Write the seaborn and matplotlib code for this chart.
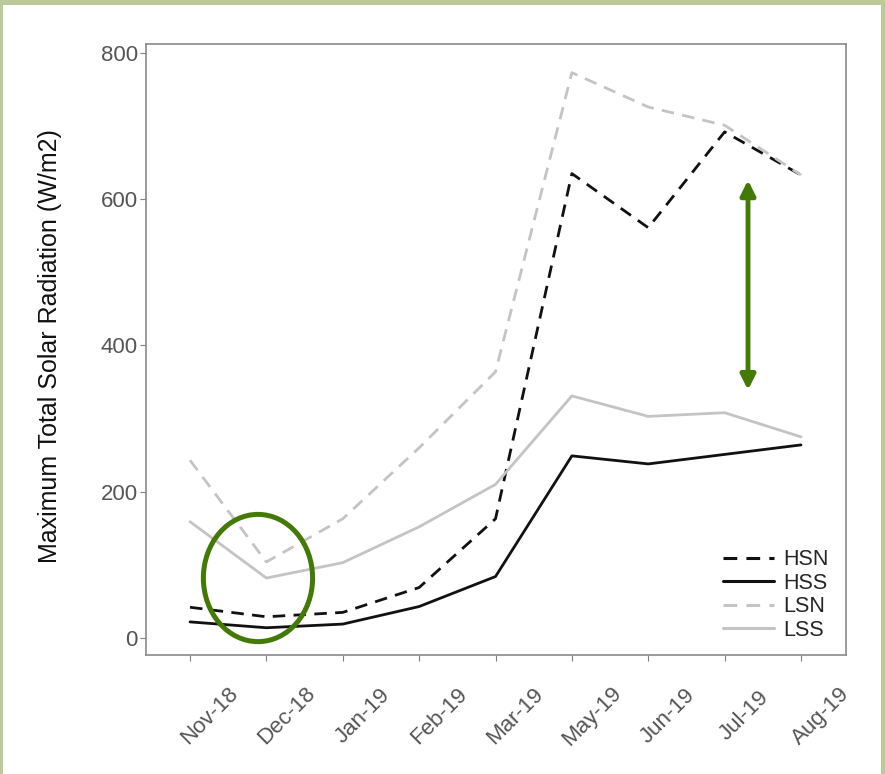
import matplotlib
matplotlib.use("Agg")
import matplotlib.pyplot as plt
from matplotlib.patches import Ellipse, Rectangle
from matplotlib.transforms import ScaledTranslation
import seaborn as sns
import pandas as pd

months = ["Nov-18", "Dec-18", "Jan-19", "Feb-19", "Mar-19",
          "May-19", "Jun-19", "Jul-19", "Aug-19"]
hsn = [42, 29, 35, 69, 163, 635, 561, 692, 633]
hss = [22, 14, 19, 43, 84, 249, 238, 251, 264]
lsn = [243, 104, 163, 260, 364, 773, 726, 701, 633]
lss = [159, 82, 103, 152, 210, 331, 303, 308, 275]
series_names = ["HSN", "HSS", "LSN", "LSS"]
y_ticks = [0, 200, 400, 600, 800]

rows = []
for name, vals in zip(series_names, [hsn, hss, lsn, lss]):
    for i, v in enumerate(vals):
        rows.append({"pos": i, "value": v, "series": name})
df = pd.DataFrame(rows)

sns.set_theme(style="white")
plt.rcParams["font.family"] = ["Liberation Sans", "DejaVu Sans"]

fig = plt.figure(figsize=(8.85, 7.74), dpi=100)
ax = fig.add_axes([0.165, 0.154, 0.791, 0.789])

palette = {"HSN": "#111111", "HSS": "#111111", "LSN": "#c4c4c4", "LSS": "#c4c4c4"}
dashes = {"HSN": (4.5, 3), "HSS": "", "LSN": (4.5, 3), "LSS": ""}
sns.lineplot(data=df, x="pos", y="value", hue="series", style="series",
             palette=palette, dashes=dashes, linewidth=2.0, ax=ax,
             hue_order=series_names, style_order=series_names)

ax.set_xlim(-0.576, 8.59)
ax.set_ylim(-23, 812)
ax.set_xticks(range(len(months)))
ax.set_xticklabels(months, rotation=45, ha="center", va="center",
                   rotation_mode="anchor", fontsize=16, color="#555555")
ax.set_yticks(y_ticks)
ax.set_yticklabels([str(v) for v in y_ticks], fontsize=16, color="#555555")
ax.tick_params(axis="both", length=4, width=0.8, color="#808080",
               direction="out", bottom=True, left=True)
ax.tick_params(axis="x", pad=40)
ax.tick_params(axis="y", pad=2)
# shift the slanted month labels a little to the right of their ticks
shift = ScaledTranslation(0.20, 0, fig.dpi_scale_trans)
for lbl in ax.get_xticklabels():
    lbl.set_transform(lbl.get_transform() + shift)

ax.set_xlabel("")
ax.set_ylabel("Maximum Total Solar Radiation (W/m2)", fontsize=18, color="#111111")
ax.yaxis.set_label_coords(-0.12, 0.506)
for sp in ax.spines.values():
    sp.set_color("#8a8a8a")
    sp.set_linewidth(1.2)

leg = ax.legend(loc="lower right", bbox_to_anchor=(0.99, 0.005), frameon=False,
                fontsize=15.5, handlelength=2.4, handletextpad=0.4,
                labelspacing=0.12, borderpad=0.0)
for line in leg.get_lines():
    line.set_linewidth(2.2)

green = "#437a06"
ax.add_patch(Ellipse((0.89, 82), width=1.43, height=174, fill=False,
                     edgecolor=green, linewidth=3.6, zorder=5))
ax.annotate("", xy=(7.306, 339), xytext=(7.306, 626),
            arrowprops=dict(arrowstyle="<|-|>", color=green, lw=3.5,
                            mutation_scale=22, shrinkA=0, shrinkB=0), zorder=5)

# Light olive frame around the figure (top, left and right edges)
border = "#bcc998"
fig.patches.append(Rectangle((0, 1 - 5 / 774), 1, 5 / 774, transform=fig.transFigure,
                             facecolor=border, edgecolor="none", zorder=10))
fig.patches.append(Rectangle((0, 0), 3 / 885, 1, transform=fig.transFigure,
                             facecolor=border, edgecolor="none", zorder=10))
fig.patches.append(Rectangle((1 - 4 / 885, 0), 4 / 885, 1, transform=fig.transFigure,
                             facecolor=border, edgecolor="none", zorder=10))

fig.savefig("out.png", dpi=100)
